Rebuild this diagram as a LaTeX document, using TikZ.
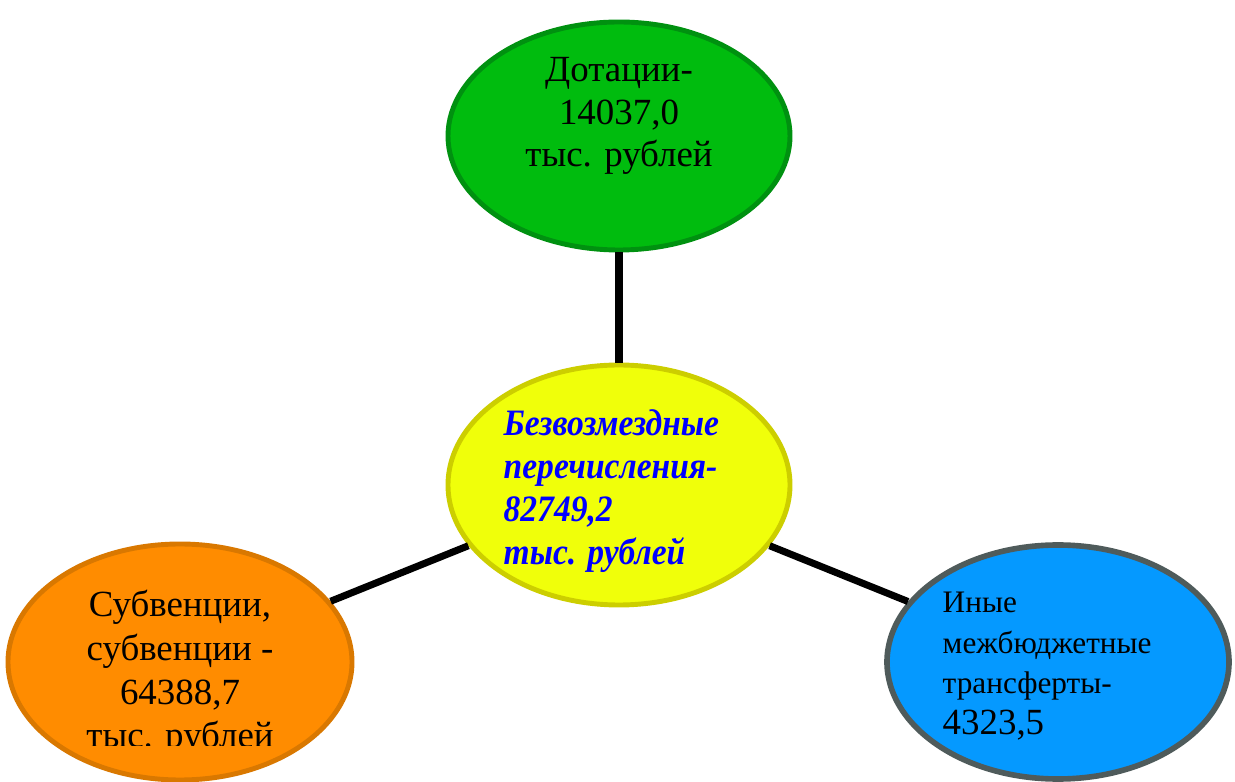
\documentclass[tikz,border=0pt]{standalone}
\usepackage{fontspec}
\setmainfont{LiberationSerif-Regular.ttf}[
    BoldFont=LiberationSerif-Bold.ttf,
    ItalicFont=LiberationSerif-Italic.ttf,
    BoldItalicFont=LiberationSerif-BoldItalic.ttf]
\newfontfamily\midfont{LiberationSerif-BoldItalic.ttf}[FakeStretch=0.9]
\usepackage{xcolor}
\usepackage{tikz}
\usetikzlibrary{shapes.geometric}

\definecolor{dotFill}{RGB}{0,188,14}
\definecolor{dotLine}{RGB}{0,145,16}
\definecolor{midFill}{RGB}{240,255,10}
\definecolor{midLine}{RGB}{204,206,0}
\definecolor{subFill}{RGB}{255,140,0}
\definecolor{subLine}{RGB}{217,120,0}
\definecolor{othFill}{RGB}{5,153,255}
\definecolor{othLine}{RGB}{79,91,91}
\definecolor{midText}{RGB}{0,0,255}

\tikzset{
    blob/.style={ellipse, inner sep=0pt, line width=1.4pt},
    link/.style={line width=2pt, black},
    txt/.style={font=\fontsize{10.5}{12.2}\selectfont, inner sep=0pt}
}

\begin{document}
\begin{tikzpicture}
    \useasboundingbox (0,0) rectangle (12.35,7.82);

    % Draw the four ellipses
    \node[blob, draw=dotLine, fill=dotFill, minimum width=3.42cm, minimum height=2.28cm] (dot) at (6.19,6.46) {};
    \node[blob, draw=midLine, fill=midFill, minimum width=3.42cm, minimum height=2.40cm] (mid) at (6.19,2.97) {};
    \node[blob, draw=subLine, fill=subFill, minimum width=3.44cm, minimum height=2.36cm] (sub) at (1.80,1.20) {};
    \node[blob, draw=othLine, fill=othFill, line width=1.6pt, minimum width=3.42cm, minimum height=2.34cm] (oth) at (10.58,1.20) {};

    % Draw connectors
    \draw[link] (mid) -- (dot);
    \draw[link] (mid) -- (sub);
    \draw[link] (mid) -- (oth);

    % Texts
    \node[txt, align=center] (dotTxt) at (6.19,6.66) {Дотации-\\14037,0\\тыс. рублей};
    \node[txt, align=left, anchor=west, text=midText, font=\fontsize{10.6}{12.2}\selectfont\midfont] (midTxt) at (5.03,2.91) {Безвозмездные\\перечисления-\\82749,2\\тыс. рублей};
    \begin{scope}
        \clip (0,0.36) rectangle (3.7,3.0);
        \node[txt, align=center, font=\fontsize{10.5}{12.4}\selectfont] (subTxt) at (1.80,1.09) {Субвенции,\\субвенции -\\64388,7\\тыс. рублей};
    \end{scope}
    \node[txt, align=left, anchor=west, font=\fontsize{8.9}{11.6}\selectfont] (othTxt) at (9.42,1.16) {Иные\\межбюджетные\\трансферты-\\{\fontsize{10.5}{12.2}\selectfont 4323,5}};
\end{tikzpicture}
\end{document}
